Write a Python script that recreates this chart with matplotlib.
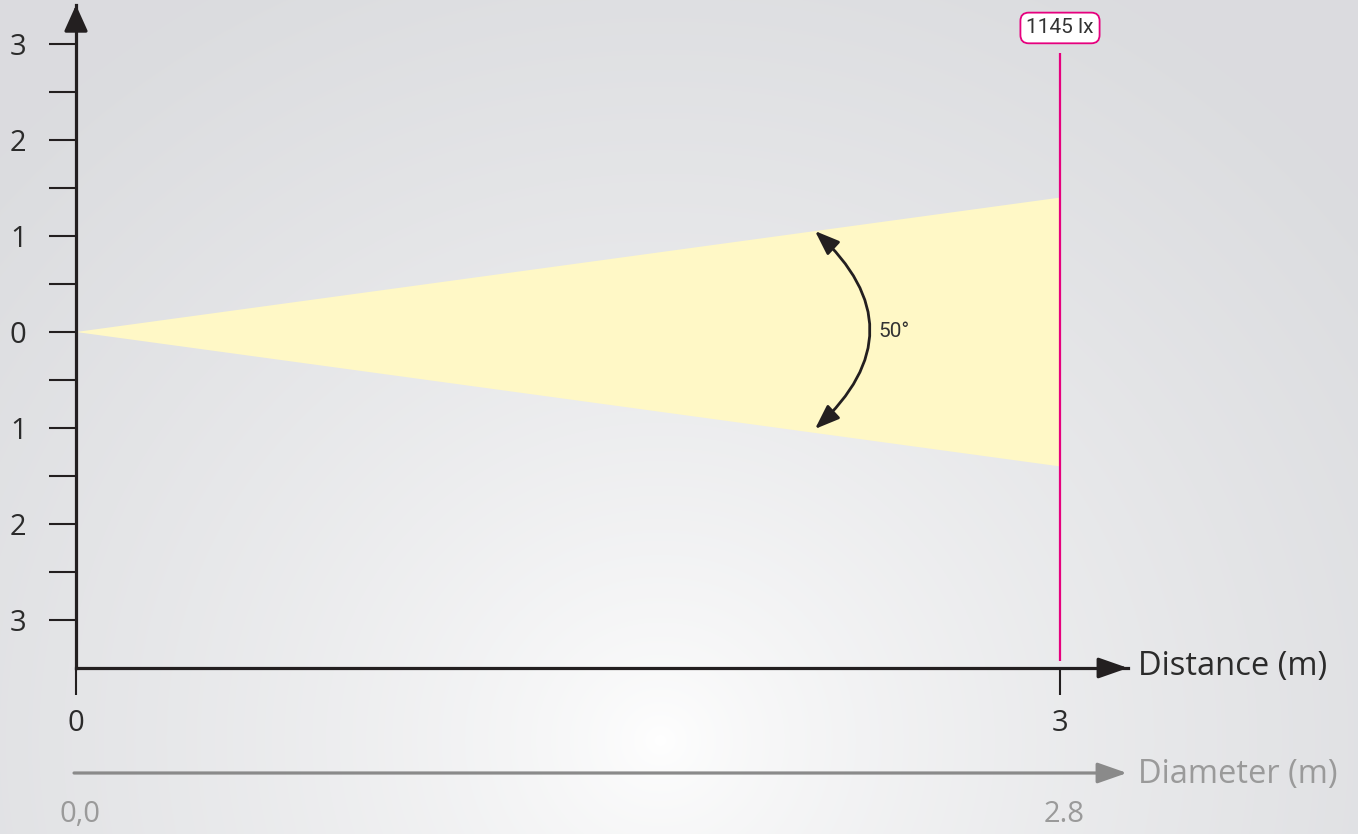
import numpy as np
import matplotlib
matplotlib.use("Agg")
import matplotlib.pyplot as plt

# data
distance_ticks = [0, 3]
distance_labels = ["0", "3"]
diameter_labels = ["0,0", "2.8"]
y_ticks = [-3, -2, -1, 0, 1, 2, 3]
y_labels = ["3", "2", "1", "0", "1", "2", "3"]
y_minor = [-2.5, -1.5, -0.5, 0.5, 1.5, 2.5]
max_distance = 3
beam_diameter = 2.8
beam_angle = "50°"
lux = "1145 lx"

W, H = 1358, 834
fig = plt.figure(figsize=(W / 100, H / 100), dpi=100)

# background: soft radial gradient, bright near the bottom centre
bg = fig.add_axes([0, 0, 1, 1])
yy, xx = np.mgrid[0:H, 0:W]
r = np.sqrt(((xx - 660) / 1.0) ** 2 + ((yy - 740) / 0.95) ** 2) / 900
t = np.clip(r, 0, 1) ** 0.7
edge = np.array([219, 220, 223]) / 255
img = (1 - t)[..., None] * np.array([1.0, 1.0, 1.0]) + t[..., None] * edge
bg.imshow(img, extent=[0, 1, 0, 1], aspect="auto")
bg.axis("off")

# main axes (pixel geometry)
px_x = 328.0   # px per metre along distance
px_y = 96.0    # px per metre across
x0, y_axis = 76, 668
ax = fig.add_axes([x0 / W, (H - y_axis) / H, (1128 - x0) / W, (y_axis - 5) / H])
ax.set_facecolor("none")
ax.set_xlim(0, (1128 - x0) / px_x)
ax.set_ylim(-3.5, -3.5 + (y_axis - 5) / px_y)

font = "Open Sans"
dark = "#231f20"
for s in ["top", "right"]:
    ax.spines[s].set_visible(False)
for s in ["left", "bottom"]:
    ax.spines[s].set_linewidth(2.3)
    ax.spines[s].set_color(dark)

ax.set_yticks(y_ticks)
ax.set_yticklabels(y_labels)
ax.set_yticks(y_minor, minor=True)
ax.tick_params(axis="y", which="both", direction="out", length=19.5, width=1.5,
               color=dark, pad=16)
ax.set_xticks(distance_ticks)
ax.set_xticklabels(distance_labels)
ax.tick_params(axis="x", direction="out", length=19.5, width=1.5, color=dark, pad=10)
for lab in ax.get_xticklabels() + ax.get_yticklabels():
    lab.set_fontfamily(font)
    lab.set_fontsize(21)
    lab.set_color("#2b2b2b")

# axis arrow heads (shaft is the spine itself)
ax.annotate("", xy=(1, 0), xytext=(0.975, 0), xycoords="axes fraction",
            arrowprops=dict(arrowstyle="-|>,head_length=1.0,head_width=0.35",
                            mutation_scale=18, color=dark, lw=2.3,
                            shrinkA=0, shrinkB=0), annotation_clip=False)
ax.annotate("", xy=(0, 1), xytext=(0, 0.965), xycoords="axes fraction",
            arrowprops=dict(arrowstyle="-|>,head_length=1.0,head_width=0.45",
                            mutation_scale=16, color=dark, lw=2.3,
                            shrinkA=0, shrinkB=0), annotation_clip=False)
ax.text((1138 - x0) / px_x, (331 - 666) / px_y, "Distance (m)", ha="left",
        va="center", fontsize=23.5, family=font, color="#2b2b2b", clip_on=False)

# beam cone
half = beam_diameter / 2
ax.fill([0, max_distance, max_distance], [0, half, -half],
        color="#fff8c6", lw=0, zorder=1)

# illuminance line and label
ax.plot([max_distance, max_distance], [2.906, -3.427], color="#e6007e", lw=1.6,
        zorder=2, solid_capstyle="butt")
ax.text(max_distance, 3.167, lux, ha="center", va="center", fontsize=15,
        family="Roboto", color="#333333",
        bbox=dict(boxstyle="round,pad=0.28,rounding_size=0.4", fc="white",
                  ec="#e6007e", lw=1.3))

# beam angle arc
ax.annotate("", xy=(2.253, -1.01), xytext=(2.253, 1.052),
            arrowprops=dict(arrowstyle="<|-|>,head_length=0.75,head_width=0.28",
                            mutation_scale=20, color=dark, lw=2.0,
                            connectionstyle="arc3,rad=-0.54",
                            shrinkA=0, shrinkB=0))
ax.text(2.445, 0, beam_angle, ha="left", va="center", fontsize=15,
        family="Roboto", color="#333333")

# diameter scale
grey = "#8a8a8a"
yd = (331 - 772) / px_y
ax.annotate("", xy=((1127 - x0) / px_x, yd), xytext=(-0.006, yd),
            arrowprops=dict(arrowstyle="-|>,head_length=1.0,head_width=0.35",
                            mutation_scale=18, color=grey, lw=2.3,
                            shrinkA=0, shrinkB=0), annotation_clip=False)
ax.text((1138 - x0) / px_x, (331 - 774) / px_y, "Diameter (m)", ha="left",
        va="center", fontsize=23.5, family=font, color="#9a9a9a", clip_on=False)
for xpos, lab in zip(distance_ticks, diameter_labels):
    ax.text(xpos + 0.012, (331 - 813) / px_y, lab, ha="center", va="center",
            fontsize=21, family=font, color="#9a9a9a", clip_on=False)

fig.savefig("out.png", dpi=100)
